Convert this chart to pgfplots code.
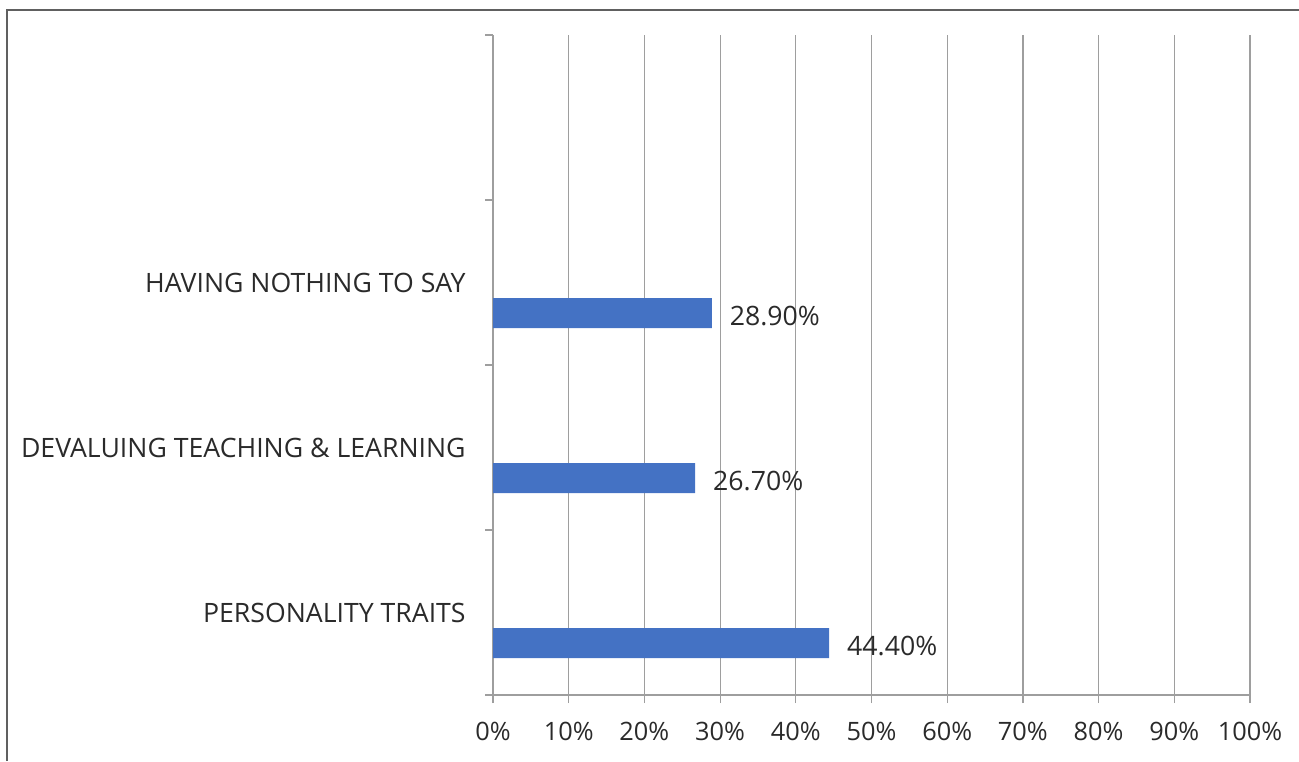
\documentclass[border=0pt]{standalone}
\usepackage{pgfplots}
\pgfplotsset{compat=1.18}
\usepackage{fontspec}
\setmainfont{Open Sans}
\definecolor{barblue}{HTML}{4472C4}
\definecolor{gridgray}{HTML}{9E9E9E}
\definecolor{txt}{HTML}{2A2A2A}
\definecolor{frame}{HTML}{606060}
\begin{document}
\begin{tikzpicture}
\useasboundingbox (0pt,0pt) rectangle (974.25pt,570.75pt);
\draw[frame,line width=1.5pt] (5.6pt,0pt) -- (5.6pt,563.25pt) -- (974.25pt,563.25pt);
\begin{axis}[
  at={(369.75pt,49.5pt)}, anchor=south west,
  scale only axis, width=567.75pt, height=495pt,
  xmin=0, xmax=100, ymin=0, ymax=4,
  xbar, bar width=22.5pt,
  axis lines=left, axis line style={-,gridgray,line width=0.9pt},
  xtick={0,10,...,100},
  xticklabel={\pgfmathprintnumber{\tick}\%},
  xmajorgrids, major grid style={gridgray,line width=0.9pt},
  ytick={0,1,2,3,4}, yticklabels={},
  major tick length=6pt,
  tick style={gridgray,line width=0.9pt},
  tick align=outside,
  extra y ticks={0.5,1.5,2.5},
  extra y tick labels={PERSONALITY TRAITS,DEVALUING TEACHING \& LEARNING,HAVING NOTHING TO SAY},
  extra y tick style={major tick length=0pt, yticklabel style={xshift=-17pt, font=\fontsize{20}{23}\selectfont}},
  ticklabel style={font=\fontsize{19}{22}\selectfont, text=txt},
  xticklabel style={yshift=-11pt},
  /pgf/number format/assume math mode=true,
  nodes near coords={\pgfmathprintnumber[fixed,fixed zerofill,precision=2]{\pgfplotspointmeta}\%},
  nodes near coords style={font=\fontsize{20}{23}\selectfont, text=txt, xshift=10pt, yshift=-2pt},
  point meta=x,
  clip=false,
]
\addplot[draw=none, fill=barblue] coordinates {(44.4,0.315) (26.7,1.315) (28.9,2.315)};
\end{axis}
\end{tikzpicture}
\end{document}
